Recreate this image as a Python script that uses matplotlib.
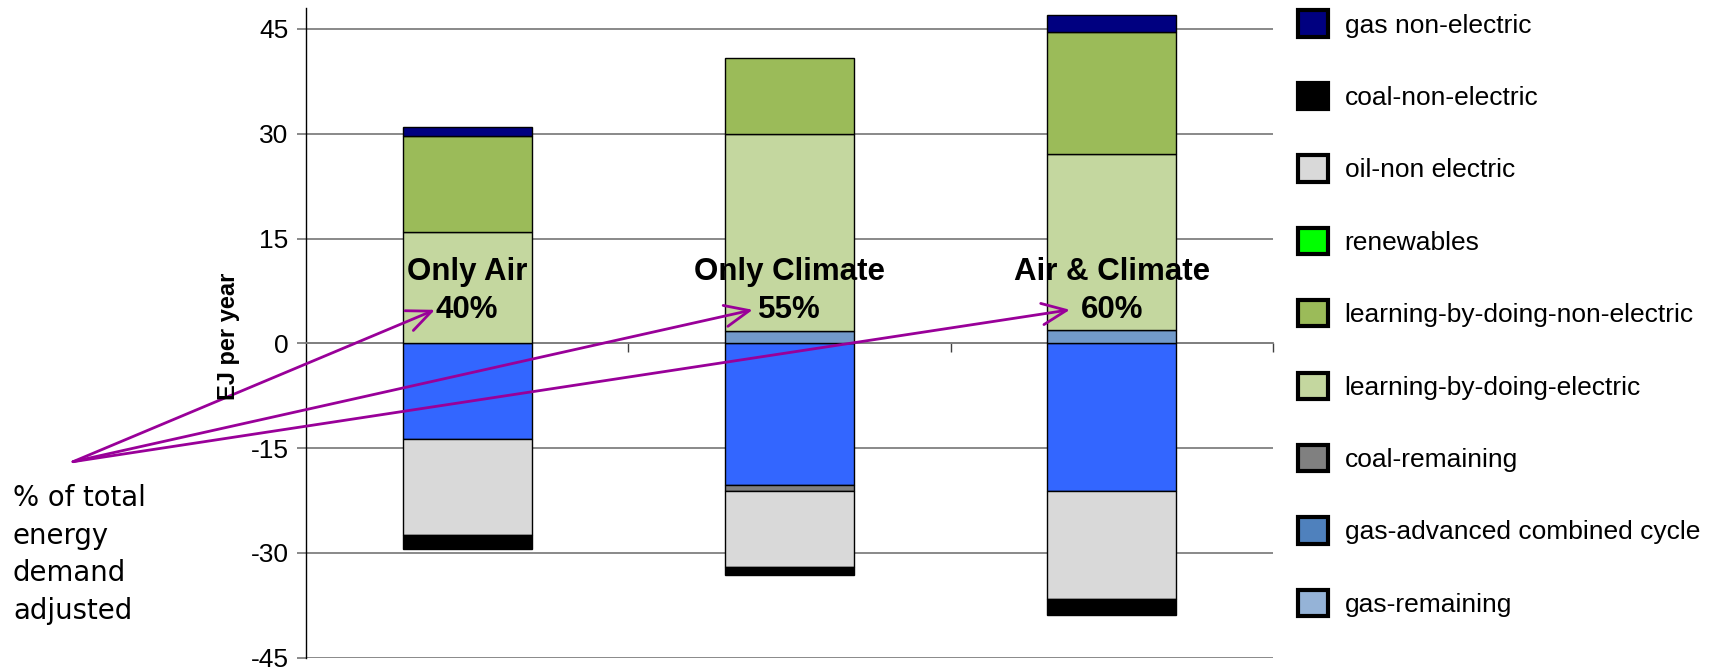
import matplotlib
matplotlib.use("Agg")
import matplotlib.pyplot as plt
from matplotlib.patches import Patch
import numpy as np

plt.rcParams['axes.unicode_minus'] = False
plt.rcParams['font.family'] = ['Liberation Sans', 'DejaVu Sans']

# ---------------- data ----------------
categories = ['Only Air', 'Only Climate', 'Air & Climate']
percent_adjusted = ['40%', '55%', '60%']

# series in stacking order (first = closest to zero)
unlisted_series   = [-13.7, -20.3, -21.2]   # bright blue, legend entry cut off in original
gas_remaining     = [0.0, 0.0, 0.0]
gas_advanced_cc   = [0.0, 1.7, 1.9]
coal_remaining    = [0.0, -0.9, 0.0]
lbd_electric      = [16.0, 28.3, 25.2]
lbd_non_electric  = [13.7, 10.8, 17.5]
renewables        = [0.0, 0.0, 0.0]
oil_non_electric  = [-13.7, -10.8, -15.4]
coal_non_electric = [-2.1, -1.2, -2.3]
gas_non_electric  = [1.2, 0.0, 2.4]

series_values = [unlisted_series, gas_remaining, gas_advanced_cc, coal_remaining,
                 lbd_electric, lbd_non_electric, renewables, oil_non_electric,
                 coal_non_electric, gas_non_electric]
series_labels = [None, 'gas-remaining', 'gas-advanced combined cycle', 'coal-remaining',
                 'learning-by-doing-electric', 'learning-by-doing-non-electric',
                 'renewables', 'oil-non electric', 'coal-non-electric', 'gas non-electric']
bar_colors = ['#3366FF', '#95B3D7', '#729ACA', '#808080', '#C4D79F', '#9BBB59',
              '#00FF00', '#D9D9D9', '#000000', '#000080']
legend_colors = ['#3366FF', '#95B3D7', '#4F81BD', '#808080', '#C4D79F', '#9BBB59',
                 '#00FF00', '#D9D9D9', '#000000', '#000080']

yticks = [-45, -30, -15, 0, 15, 30, 45]

# ---------------- figure ----------------
fig = plt.figure(figsize=(17.13, 6.68), dpi=100)
ax = fig.add_axes([306/1713, 1 - 657.7/668, (1273-306)/1713, (657.7-8)/668])

x = np.arange(len(categories))
width = 0.4
pos_bottom = np.zeros(len(categories))
neg_bottom = np.zeros(len(categories))
for vals, col in zip(series_values, bar_colors):
    vals = np.array(vals, dtype=float)
    for i, v in enumerate(vals):
        if v == 0:
            continue
        if v > 0:
            b = pos_bottom[i]
            pos_bottom[i] += v
        else:
            b = neg_bottom[i]
            neg_bottom[i] += v
        ax.bar(x[i], v, width=width, bottom=b, color=col,
               edgecolor='black', linewidth=1.0, zorder=3)

ax.set_xlim(-0.5, 2.5)
ax.set_ylim(-45, 48)
ax.set_yticks(yticks)
ax.set_yticklabels([str(t) for t in yticks], fontsize=19)
ax.yaxis.grid(True, color='#808080', linewidth=1.3, zorder=0)
ax.set_axisbelow(True)
ax.tick_params(axis='y', direction='out', length=6.5, width=1.3, color='#808080', pad=6)

ax.set_xticks([0.5, 1.5, 2.5])
ax.set_xticklabels([])
ax.tick_params(axis='x', direction='out', length=6.5, width=1.0, color='#404040')
ax.spines['bottom'].set_position(('data', 0))
ax.spines['bottom'].set_color('#808080')
ax.spines['bottom'].set_linewidth(1.3)
ax.spines['top'].set_visible(False)
ax.spines['right'].set_visible(False)
ax.spines['left'].set_color('black')
ax.spines['left'].set_linewidth(1.0)

fig.text(228/1713, 1 - 336.5/668, 'EJ per year', rotation=90, ha='center', va='center',
         fontsize=17, fontweight='bold')

# scenario labels
for i, (cat, pct) in enumerate(zip(categories, percent_adjusted)):
    ax.text(x[i], 10.2, cat, ha='center', va='center', fontsize=22.5,
            fontweight='bold', zorder=6)
    ax.text(x[i], 4.8, pct, ha='center', va='center', fontsize=22.5,
            fontweight='bold', zorder=6)

# annotation arrows
arrow_tips_x = [-0.10, 0.886, 1.87]
for tx in arrow_tips_x:
    ax.annotate('', xy=(tx, 4.8), xycoords='data',
                xytext=(73/1713, 1 - 461.7/668), textcoords='figure fraction',
                arrowprops=dict(arrowstyle='->, head_length=0.8, head_width=0.35',
                                color='#990099', lw=2.0, shrinkA=0, shrinkB=0,
                                mutation_scale=22),
                annotation_clip=False, zorder=5)

fig.text(13/1713, 1 - 484/668, '% of total\nenergy\ndemand\nadjusted',
         ha='left', va='top', fontsize=19.8, family='DejaVu Sans', linespacing=1.44)

# legend (top-to-bottom = reverse series order, excluding unlisted)
handles, labels = [], []
for lab, col in zip(series_labels[::-1], legend_colors[::-1]):
    if lab is None:
        continue
    handles.append(Patch(facecolor=col, edgecolor='black', linewidth=3))
    labels.append(lab)
fig.legend(handles, labels, loc='upper left', bbox_to_anchor=(1298/1713, 1 - 10.5/668),
           frameon=False, fontsize=19, handlelength=1.15, handleheight=1.15,
           handletextpad=0.62, labelspacing=1.72, borderpad=0, borderaxespad=0)

fig.savefig('out.png', dpi=100)
